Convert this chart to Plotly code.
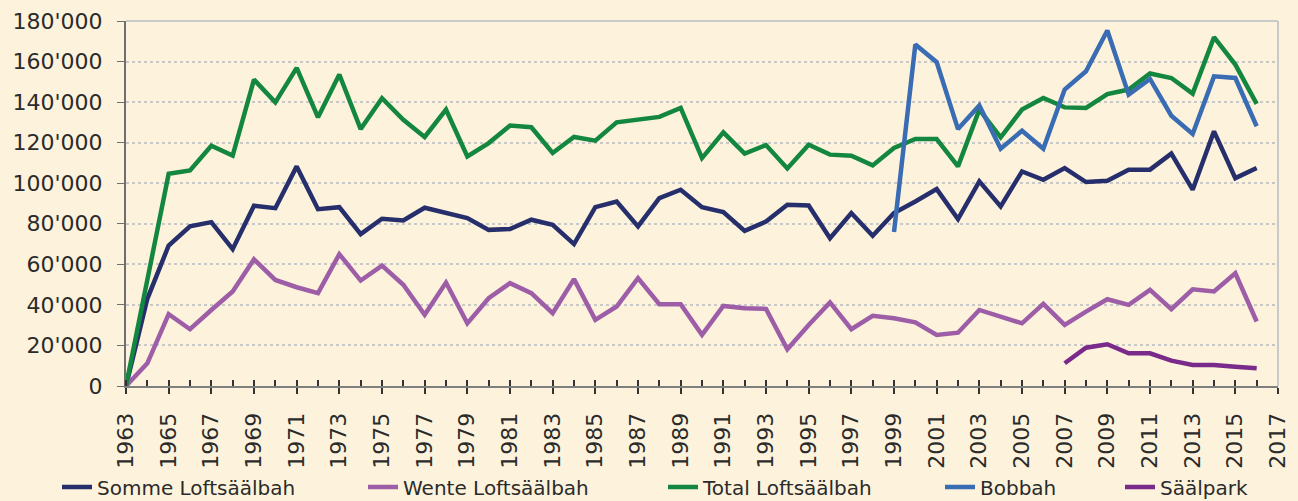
import plotly.graph_objects as go

years = list(range(1963, 2017))

somme = [0, 43000, 69300, 78700, 80800, 67500, 88900, 87700, 108300, 87200,
         88200, 74900, 82500, 81600, 87900, 85600, 82800, 77000, 77400, 82000,
         79500, 70000, 88200, 91000, 78700, 92700, 96800, 88200, 85800, 76500,
         81100, 89400, 89000, 72900, 85300, 74100, 85300, 91000, 97100, 82300,
         100900, 88600, 105800, 101700, 107500, 100600, 101200, 106700, 106700, 114600,
         96800, 125600, 102500, 107500]

wente = [0, 11200, 35400, 28000, 37500, 46600, 62500, 52300, 48700, 45800,
         65000, 52000, 59400, 49900, 35100, 51000, 30900, 43300, 50700, 45800,
         35900, 52700, 32600, 39200, 53200, 40300, 40300, 25200, 39500, 38400,
         38000, 18100, 30100, 41200, 28000, 34600, 33400, 31400, 25200, 26300,
         37500, 34200, 30900, 40500, 30100, 36700, 42800, 40000, 47400, 37900,
         47700, 46600, 55600, 31800]

total = [0, 52000, 104700, 106300, 118500, 113600, 151100, 139900, 156900, 132500,
         153600, 126700, 141900, 131300, 122800, 136300, 113200, 119800, 128400, 127600,
         114900, 122800, 121000, 130000, 131300, 132700, 137100, 112400, 125100, 114600,
         118800, 107300, 119000, 114100, 113600, 108800, 117400, 121800, 121800, 108300,
         136300, 122600, 136300, 142000, 137400, 137100, 144000, 146200, 154100, 151900,
         144200, 172000, 158500, 139100]

bobbah = [None] * 36 + [75900, 168400, 159700, 126700, 138300, 117000, 125900, 117000,
                        146200, 155200, 175300, 143700, 151400, 133300, 124300, 152700,
                        151900, 128100]

saalpark = [None] * 44 + [11200, 18900, 20600, 16100, 16100, 12500, 10400, 10400,
                          9500, 8700]

series = [
    ("Somme Loftsäälbah", somme, "#262f6c"),
    ("Wente Loftsäälbah", wente, "#9d5ea7"),
    ("Total Loftsäälbah", total, "#13873f"),
    ("Bobbah", bobbah, "#3a6cb4"),
    ("Säälpark", saalpark, "#792a8b"),
]
legend_x = [57, 363, 663, 940, 1120]

y_ticks = list(range(0, 180001, 20000))
y_labels = ["0" if v == 0 else f"{v // 1000}'000" for v in y_ticks]
x_ticks = list(range(1963, 2018, 2))

BG = "#fdf3dc"
FONT = "DejaVu Sans"

fig = go.Figure()
for i, (name, vals, color) in enumerate(series):
    fig.add_trace(go.Scatter(
        x=years, y=vals, mode="lines", name=name,
        line=dict(color=color, width=4.5),
        legend="legend" if i == 0 else f"legend{i + 1}",
    ))

legends = {}
for i, lx in enumerate(legend_x):
    key = "legend" if i == 0 else f"legend{i + 1}"
    legends[key] = dict(
        x=lx / 1298, xref="container", xanchor="left",
        y=14 / 501, yref="container", yanchor="middle",
        orientation="h", bgcolor="rgba(0,0,0,0)",
        font=dict(family=FONT, size=20, color="#2b2b2b"),
    )

# light border on top and right of the plot area
fig.add_shape(type="line", xref="paper", yref="paper", x0=0, x1=1, y0=1, y1=1,
              line=dict(color="#c9c9c9", width=2))
fig.add_shape(type="line", xref="paper", yref="paper", x0=1, x1=1, y0=0, y1=1,
              line=dict(color="#c9c9c9", width=2))

fig.update_layout(
    width=1298, height=501,
    margin=dict(l=126, r=20, t=21, b=115),
    paper_bgcolor=BG, plot_bgcolor=BG,
    showlegend=True,
    **legends,
    xaxis=dict(
        range=[1963, 2017], tickvals=x_ticks, ticktext=[str(v) for v in x_ticks],
        tickangle=-90, showgrid=False, zeroline=False, automargin=False,
        showline=True, linecolor="#808080", linewidth=2,
        ticks="outside", ticklen=6, tickcolor="#333333", tickwidth=1.5,
        minor=dict(ticks="inside", dtick=1, tick0=1963, ticklen=6,
                   tickcolor="#333333", tickwidth=1.5, showgrid=False),
        tickfont=dict(family=FONT, size=22, color="#2b2b2b"),
        ticklabelstandoff=10,
        fixedrange=True,
    ),
    yaxis=dict(
        range=[0, 180000], tickvals=y_ticks, ticktext=y_labels, automargin=False,
        showgrid=True, gridcolor="#c8c8c8", griddash="dot", gridwidth=1.5,
        zeroline=False, showline=True, linecolor="#6e6e6e", linewidth=2,
        ticks="outside", ticklen=7, tickcolor="#6e6e6e",
        tickfont=dict(family=FONT, size=22, color="#2b2b2b"),
        ticklabelstandoff=10,
        fixedrange=True,
    ),
)

fig.write_html(
    "out.html",
    config={"displayModeBar": False},
    post_script="document.body.style.margin='0';"
                "document.body.style.background='" + BG + "';",
)
